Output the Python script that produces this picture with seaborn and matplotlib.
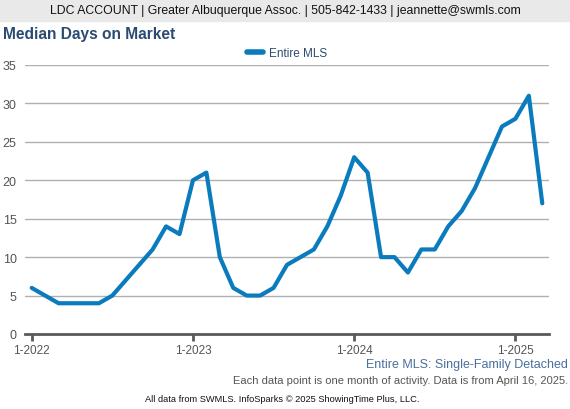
import pandas as pd
import matplotlib
matplotlib.use("Agg")
import matplotlib.pyplot as plt
import seaborn as sns
from matplotlib.patches import Rectangle
from matplotlib.lines import Line2D

# monthly median days on market, 1-2022 .. 3-2025
months = pd.date_range("2022-01-01", "2025-03-01", freq="MS")
days = [6, 5, 4, 4, 4, 4, 5, 7, 9, 11, 14, 13,
        20, 21, 10, 6, 5, 5, 6, 9, 10, 11, 14, 18,
        23, 21, 10, 10, 8, 11, 11, 14, 16, 19, 23, 27,
        28, 31, 17]
tick_labels = ["1-2022", "1-2023", "1-2024", "1-2025"]
series_name = "Entire MLS"

LINE = "#0a7bbd"
NAVY = "#2b4c72"
GRAY = "#555555"


def main():
    sns.set_style("white")
    plt.rcParams["font.family"] = ["Liberation Sans", "DejaVu Sans"]

    df = pd.DataFrame({"idx": range(len(days)), "days": days})

    fig = plt.figure(figsize=(5.7, 4.1), dpi=100)
    ax = fig.add_axes([25 / 570, 75 / 410, 524 / 570, 269 / 410])

    sns.lineplot(data=df, x="idx", y="days", ax=ax, color=LINE,
                 linewidth=3, legend=False)

    ax.set_xlim(-0.5, 38.5)
    ax.set_ylim(0, 35)
    ax.set_yticks(range(0, 36, 5))
    ax.set_xticks([0, 12, 24, 36])
    ax.set_xticklabels(tick_labels)
    ax.set_xlabel("")
    ax.set_ylabel("")
    ax.grid(axis="y", color="#b0b0b0", linewidth=1)
    ax.set_axisbelow(True)
    for s in ["top", "right", "left"]:
        ax.spines[s].set_visible(False)
    ax.spines["bottom"].set_color("#5a5a5a")
    ax.spines["bottom"].set_linewidth(2)
    ax.tick_params(axis="x", length=5, width=2, color="#5a5a5a",
                   labelsize=8.5, labelcolor=GRAY, pad=2, direction="out")
    ax.tick_params(axis="y", length=0, labelsize=9, labelcolor=GRAY, pad=6)
    ax.xaxis.set_ticks_position("bottom")

    # header band
    fig.patches.append(Rectangle((0, 1 - 22 / 410), 1, 22 / 410,
                                 transform=fig.transFigure, color="#e9e9e9",
                                 zorder=0))
    fig.text(0.5, 1 - 11 / 410,
             "LDC ACCOUNT | Greater Albuquerque Assoc. | 505-842-1433 | jeannette@swmls.com",
             ha="center", va="center", fontsize=8.8, color="#111111")
    fig.text(3 / 570, 1 - 34 / 410, "Median Days on Market",
             ha="left", va="center", fontsize=11.2, fontweight="bold", color=NAVY)

    handle = Line2D([], [], color=LINE, linewidth=4)
    fig.legend([handle], [series_name], loc="center",
               bbox_to_anchor=(287 / 570, 1 - 54 / 410), frameon=False,
               fontsize=8.5, labelcolor=NAVY, handlelength=1.4,
               handletextpad=0.5)

    fig.text(568 / 570, 1 - 365 / 410, "Entire MLS: Single-Family Detached",
             ha="right", va="center", fontsize=9, color="#4a6f9c")
    fig.text(568 / 570, 1 - 381 / 410,
             "Each data point is one month of activity. Data is from April 16, 2025.",
             ha="right", va="center", fontsize=8, color=GRAY)
    fig.text(145 / 570, 1 - 400 / 410,
             "All data from SWMLS. InfoSparks \u00a9 2025 ShowingTime Plus, LLC.",
             ha="left", va="center", fontsize=6.7, color="#111111")

    fig.savefig("out.png", dpi=100)


if __name__ == "__main__":
    main()
